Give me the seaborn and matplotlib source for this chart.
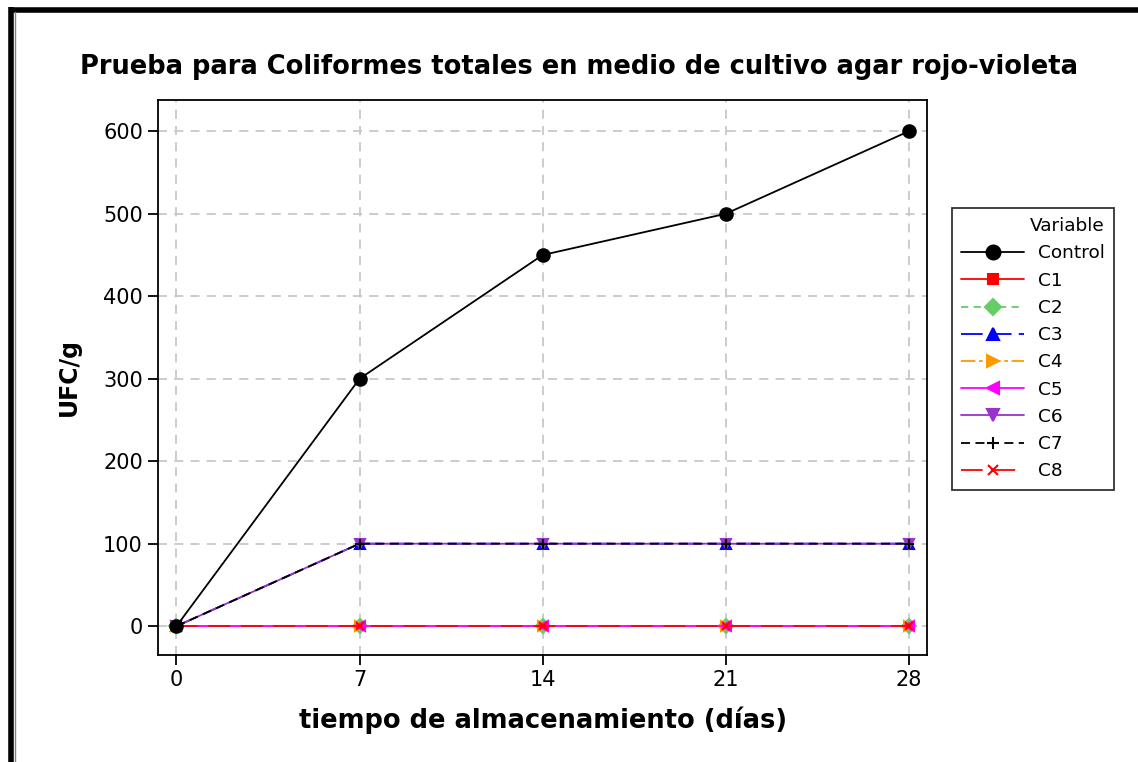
import numpy as np
import pandas as pd
import matplotlib
matplotlib.use("Agg")
import matplotlib.pyplot as plt
from matplotlib.lines import Line2D
import seaborn as sns

# storage time (days) and counts per treatment
dias = [0, 7, 14, 21, 28]
control = [0, 300, 450, 500, 600]
c1 = [0, 0, 0, 0, 0]
c2 = [0, 0, 0, 0, 0]
c3 = [0, 100, 100, 100, 100]
c4 = [0, 0, 0, 0, 0]
c5 = [0, 0, 0, 0, 0]
c6 = [0, 100, 100, 100, 100]
c7 = [0, 100, 100, 100, 100]
c8 = [0, 0, 0, 0, 0]

series = {"Control": control, "C1": c1, "C2": c2, "C3": c3, "C4": c4,
          "C5": c5, "C6": c6, "C7": c7, "C8": c8}
names = list(series.keys())

colors = {"Control": "black", "C1": "#ff0000", "C2": "#66cc66", "C3": "#0000ff",
          "C4": "#ff9900", "C5": "#ff00ff", "C6": "#9933cc", "C7": "black",
          "C8": "#ff0000"}
markers = {"Control": "o", "C1": "s", "C2": "D", "C3": "^", "C4": ">",
           "C5": "<", "C6": "v", "C7": "+", "C8": "x"}
dashes = {"Control": "", "C1": "", "C2": (4, 3), "C3": (12, 4), "C4": (8, 2, 2, 2),
          "C5": "", "C6": "", "C7": (5, 3), "C8": (12, 6)}
msizes = {"Control": 9, "C1": 6, "C2": 7, "C3": 7.5, "C4": 7.5,
          "C5": 7.5, "C6": 7.5, "C7": 7, "C8": 6}

df = pd.DataFrame([(n, d, v) for n in names for d, v in zip(dias, series[n])],
                  columns=["Variable", "dias", "ufc"])

sns.set_style("white")
plt.rcParams["font.family"] = ["DejaVu Sans"]
plt.rcParams["text.color"] = "black"
plt.rcParams["axes.labelcolor"] = "black"
plt.rcParams["xtick.color"] = "black"
plt.rcParams["ytick.color"] = "black"

fig = plt.figure(figsize=(11.38, 7.62), dpi=100)
ax = fig.add_axes([0.139, 0.1404, 0.6756, 0.7284])

ax.grid(True, color="#c8c8c8", linestyle=(0, (5, 4)), linewidth=1.3)
ax.set_axisbelow(True)

# draw control last so it sits on top like the original
for n in names[1:] + names[:1]:
    sub = df[df["Variable"] == n]
    sns.lineplot(data=sub, x="dias", y="ufc", ax=ax, color=colors[n],
                 marker=markers[n], markersize=msizes[n],
                 markeredgecolor=colors[n], markeredgewidth=1.5,
                 linewidth=1.3, legend=False)
    if dashes[n]:
        ax.lines[-1].set_dashes(dashes[n])
    else:
        ax.lines[-1].set_linestyle("-")

ax.set_xlim(-0.7, 28.7)
ax.set_ylim(-35, 638)
ax.set_xticks(dias)
ax.set_yticks([0, 100, 200, 300, 400, 500, 600])
ax.tick_params(axis="both", labelsize=15, length=7, width=1.3, direction="out",
               bottom=True, left=True, pad=4)
for s in ax.spines.values():
    s.set_color("black")
    s.set_linewidth(1.3)

ax.set_xlabel("tiempo de almacenamiento (días)", fontsize=18.5, fontweight="bold", labelpad=12)
ax.set_ylabel("UFC/g", fontsize=17, fontweight="bold", labelpad=16)
fig.text(0.509, 0.912, "Prueba para Coliformes totales en medio de cultivo agar rojo-violeta",
         ha="center", va="center", fontsize=18.5, fontweight="bold")

handles = []
for n in names:
    h = Line2D([], [], color=colors[n], marker=markers[n], markersize=msizes[n] + 1,
               markeredgecolor=colors[n], markeredgewidth=1.5, linewidth=1.3, label=n)
    if dashes[n]:
        h.set_dashes(dashes[n])
    handles.append(h)
leg = fig.legend(handles=handles, title="Variable", loc="upper left",
                 bbox_to_anchor=(0.8365, 0.727), frameon=True, fancybox=False,
                 fontsize=13.3, title_fontsize=13.3, handlelength=3.4,
                 borderpad=0.5, labelspacing=0.5, handletextpad=0.75,
                 borderaxespad=0)
leg.get_frame().set_edgecolor("black")
leg.get_frame().set_linewidth(1.3)
leg._legend_box.align = "right"

# outer frame (top and left edges visible in the original)
fig.add_artist(Line2D([11 / 1138, 11 / 1138], [0, 1 - 7 / 762], color="black", linewidth=4,
                      transform=fig.transFigure, solid_capstyle="butt"))
fig.add_artist(Line2D([9 / 1138, 1], [1 - 9.5 / 762, 1 - 9.5 / 762], color="black", linewidth=4,
                      transform=fig.transFigure, solid_capstyle="butt"))
fig.add_artist(Line2D([15 / 1138, 15 / 1138], [0, 1 - 12 / 762], color="#808080", linewidth=1,
                      transform=fig.transFigure))

fig.savefig("out.png", dpi=100)
